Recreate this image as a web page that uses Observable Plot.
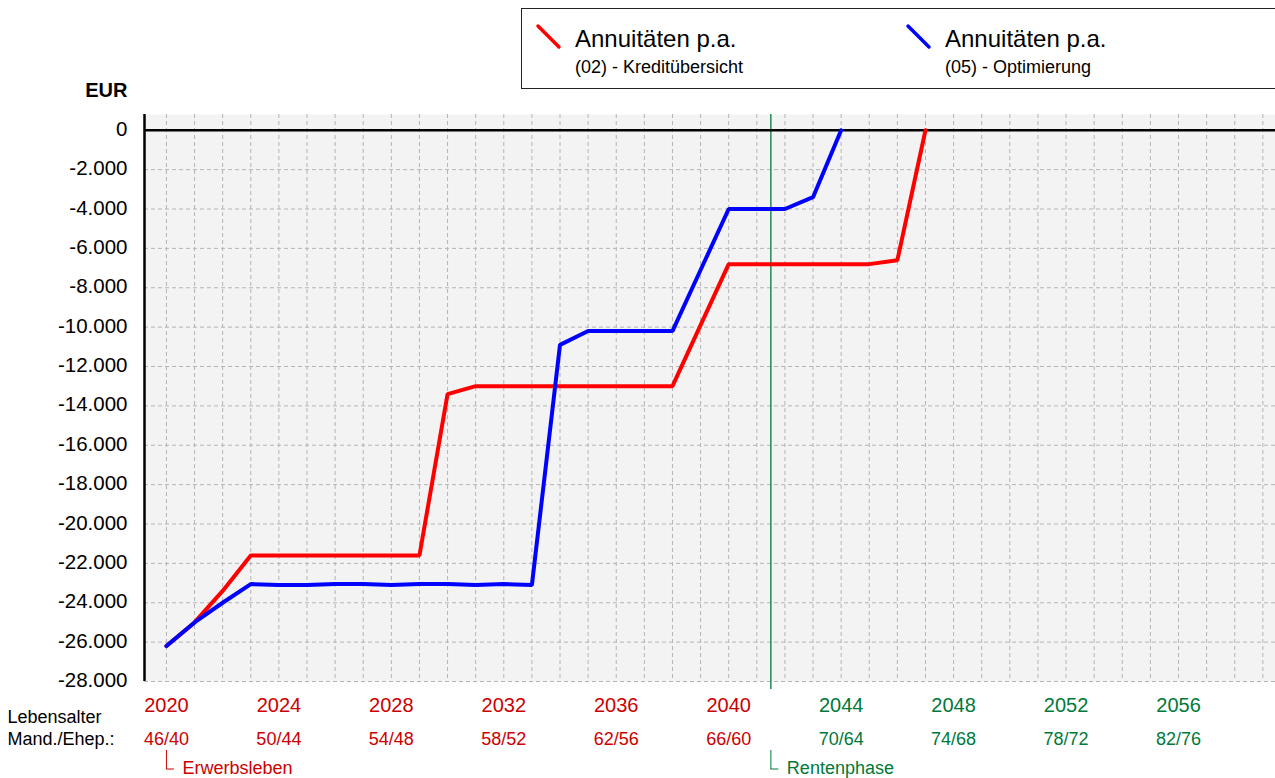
<!DOCTYPE html>
<html>
<head>
<meta charset="utf-8">
<script src="https://cdn.jsdelivr.net/npm/d3@7"></script>
<script src="https://cdn.jsdelivr.net/npm/@observablehq/plot@0.6"></script>
<style>
  html, body { margin: 0; padding: 0; background: #fff; }
  body { font-family: "Liberation Sans", Arial, sans-serif; position: relative; width: 1275px; height: 778px; overflow: hidden; }
  #legend { position: absolute; left: 521px; top: 8px; width: 758px; height: 81px; border: 1px solid #222; background: #fff; box-sizing: border-box; }
  .item { position: absolute; top: 0; }
  .item svg { position: absolute; left: 0; top: 0; }
  .t1 { position: absolute; top: 16px; font-size: 24px; white-space: nowrap; color: #000; }
  .t2 { position: absolute; top: 48px; font-size: 18px; white-space: nowrap; color: #000; }
  #chart { position: absolute; left: 0; top: 0; }
</style>
</head>
<body>
<div id="chart"></div>
<div id="legend"></div>
<script>
// ---- data ----
const yearsRed = [2020,2021,2022,2023,2024,2025,2026,2027,2028,2029,2030,2031,2032,2033,2034,2035,2036,2037,2038,2039,2040,2041,2042,2043,2044,2045,2046,2047];
const valuesRed = [-26200,-25000,-23400,-21600,-21600,-21600,-21600,-21600,-21600,-21600,-13400,-13000,-13000,-13000,-13000,-13000,-13000,-13000,-13000,-9900,-6800,-6800,-6800,-6800,-6800,-6800,-6600,0];

const yearsBlue = [2020,2021,2022,2023,2024,2025,2026,2027,2028,2029,2030,2031,2032,2033,2034,2035,2036,2037,2038,2039,2040,2041,2042,2043,2044];
const valuesBlue = [-26200,-25000,-24000,-23050,-23100,-23100,-23050,-23050,-23100,-23050,-23050,-23100,-23050,-23100,-10900,-10200,-10200,-10200,-10200,-7100,-4000,-4000,-4000,-3400,0];

const seriesNames = ["Annuitäten p.a.", "Annuitäten p.a."];
const seriesSubs = ["(02) - Kreditübersicht", "(05) - Optimierung"];
const seriesColors = ["#ff0000", "#0000ff"];

const yTicks = [0,-2000,-4000,-6000,-8000,-10000,-12000,-14000,-16000,-18000,-20000,-22000,-24000,-26000,-28000];
const tickYears = [2020,2024,2028,2032,2036,2040,2044,2048,2052,2056];
const ageLabels = ["46/40","50/44","54/48","58/52","62/56","66/60","70/64","74/68","78/72","82/76"];
const gridYears = d3.range(2020, 2060);
const retirementYear = 2041.5;
const startYear = 2020;
const xDomain = [2019.22, 2059.45];
const yDomain = [-28000, 800];

const phaseColorWork = "#cc0000";
const phaseColorRent = "#00793a";

// ---- build ----
const red = yearsRed.map((y, i) => ({year: y, value: valuesRed[i]}));
const blue = yearsBlue.map((y, i) => ({year: y, value: valuesBlue[i]}));
const ticks = tickYears.map((y, i) => ({year: y, age: ageLabels[i]}));
const loc = d3.formatLocale({decimal: ",", thousands: ".", grouping: [3], currency: ["", "€"], minus: "-"});
const fmt = loc.format(",d");
const colorOf = y => y < retirementYear ? phaseColorWork : phaseColorRent;

const plot = Plot.plot({
  width: 1275,
  height: 778,
  marginTop: 114,
  marginBottom: 97,
  marginLeft: 144,
  marginRight: 0,
  style: {fontFamily: "'Liberation Sans', Arial, sans-serif", background: "transparent", overflow: "visible"},
  x: {domain: xDomain, axis: null},
  y: {domain: yDomain, axis: null},
  marks: [
    Plot.frame({fill: "#f3f3f3", stroke: null}),
    Plot.gridX(gridYears, {stroke: "#b4b4b4", strokeOpacity: 1, strokeDasharray: "4,3", strokeWidth: 1}),
    Plot.gridY(yTicks, {stroke: "#b4b4b4", strokeOpacity: 1, strokeDasharray: "4,3", strokeWidth: 1}),
    Plot.axisY(yTicks, {tickSize: 0, tickPadding: 17, tickFormat: fmt, fontSize: 20.5, label: null, dy: -1, fill: "#000"}),
    Plot.ruleX([retirementYear], {stroke: phaseColorRent, strokeWidth: 1.3}),
    Plot.ruleY([0], {stroke: "#000", strokeWidth: 2.5}),
    Plot.ruleX([xDomain[0]], {stroke: "#000", strokeWidth: 2.5}),
    Plot.line(red, {x: "year", y: "value", stroke: seriesColors[0], strokeWidth: 4, strokeLinejoin: "miter"}),
    Plot.line(blue, {x: "year", y: "value", stroke: seriesColors[1], strokeWidth: 4, strokeLinejoin: "miter"}),
    // x labels: years and ages
    Plot.text(ticks, {x: "year", text: d => String(d.year), frameAnchor: "bottom", lineAnchor: "middle", dy: 23.6, fontSize: 20, fill: d => colorOf(d.year)}),
    Plot.text(ticks, {x: "year", text: "age", frameAnchor: "bottom", lineAnchor: "middle", dy: 58.2, fontSize: 18, fill: d => colorOf(d.year)}),
    Plot.text(["Lebensalter"], {frameAnchor: "bottom-left", lineAnchor: "middle", dx: -137, dy: 36.2, textAnchor: "start", fontSize: 18, fill: "#000"}),
    Plot.text(["Mand./Ehep.:"], {frameAnchor: "bottom-left", lineAnchor: "middle", dx: -137, dy: 57.5, textAnchor: "start", fontSize: 18, fill: "#000"}),
    Plot.text(["EUR"], {frameAnchor: "top-left", lineAnchor: "middle", dx: -17, dy: -23.5, textAnchor: "end", fontSize: 20, fontWeight: "bold", fill: "#000"}),
    // phase labels
    Plot.text(["Erwerbsleben"], {x: [startYear], frameAnchor: "bottom", lineAnchor: "middle", dx: 16, dy: 87.2, textAnchor: "start", fontSize: 18, fill: phaseColorWork}),
    Plot.text(["Rentenphase"], {x: [retirementYear], frameAnchor: "bottom", lineAnchor: "middle", dx: 16, dy: 87.2, textAnchor: "start", fontSize: 18, fill: phaseColorRent}),
    Plot.ruleX([startYear], {insetTop: 636, insetBottom: -88, stroke: phaseColorWork, strokeWidth: 1}),
    Plot.ruleX([retirementYear], {insetTop: 636, insetBottom: -88, stroke: phaseColorRent, strokeWidth: 1}),
    Plot.ruleX([retirementYear], {insetTop: 567, insetBottom: -8, stroke: phaseColorRent, strokeWidth: 1.3})
  ]
});
document.getElementById("chart").appendChild(plot);

// bracket feet (horizontal strokes) using the plot's x scale
const xs = plot.scale("x");
const svg = d3.select(plot);
[[startYear, phaseColorWork], [retirementYear, phaseColorRent]].forEach(([yr, col]) => {
  const px = xs.apply(yr);
  svg.append("line").attr("x1", px).attr("x2", px + 8).attr("y1", 769).attr("y2", 769)
    .attr("stroke", col).attr("stroke-width", 1);
});

// legend
const legend = document.getElementById("legend");
const offsets = [0, 370];
seriesNames.forEach((name, i) => {
  const item = document.createElement("div");
  item.className = "item";
  item.style.left = (offsets[i]) + "px";
  item.innerHTML = `<svg width="60" height="60"><line x1="16" y1="17" x2="37" y2="38" stroke="${seriesColors[i]}" stroke-width="3.5" stroke-linecap="round"/></svg>
    <div class="t1" style="left:53px">${name}</div>
    <div class="t2" style="left:53px">${seriesSubs[i]}</div>`;
  legend.appendChild(item);
});
</script>
</body>
</html>
